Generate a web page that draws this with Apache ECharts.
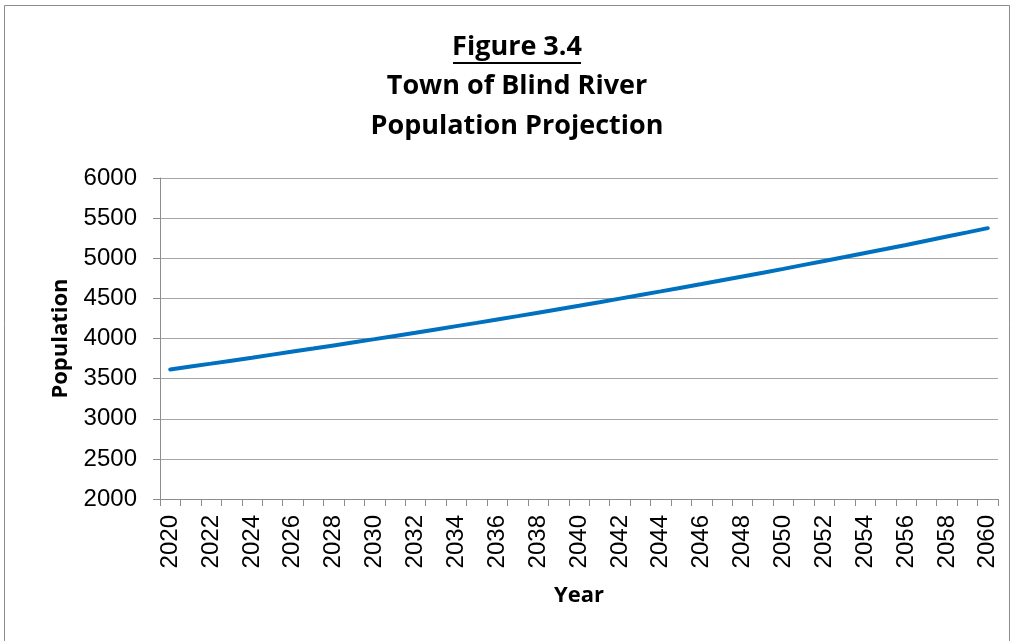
<!DOCTYPE html>
<html>
<head>
<meta charset="utf-8">
<script src="https://cdn.jsdelivr.net/npm/echarts@6/dist/echarts.min.js"></script>
<style>
  html, body { margin: 0; padding: 0; background: #fff; }
  #chart { width: 1016px; height: 641px; }
</style>
</head>
<body>
<div id="chart"></div>
<script>
// Projected population of the Town of Blind River, 2020–2060
const years = [
  '2020','2021','2022','2023','2024','2025','2026','2027','2028','2029',
  '2030','2031','2032','2033','2034','2035','2036','2037','2038','2039',
  '2040','2041','2042','2043','2044','2045','2046','2047','2048','2049',
  '2050','2051','2052','2053','2054','2055','2056','2057','2058','2059','2060'
];
const population = [
  3615, 3651, 3687, 3724, 3761, 3799, 3837, 3875, 3914, 3953,
  3992, 4032, 4072, 4113, 4154, 4195, 4237, 4279, 4322, 4365,
  4408, 4452, 4497, 4542, 4587, 4633, 4679, 4726, 4773, 4820,
  4868, 4917, 4966, 5015, 5065, 5115, 5166, 5218, 5270, 5322, 5375
];
const titleLines = ['Figure 3.4', 'Town of Blind River', 'Population Projection'];
const yTicks = { min: 2000, max: 6000, step: 500 };

const titleFont = '"Open Sans", "Noto Sans", sans-serif';
const bodyFont = '"Liberation Sans", Arial, sans-serif';

// three-line heading, centred over the chart
const titleGraphics = titleLines.map((t, i) => ({
  type: 'text',
  x: 517,
  y: 47 + i * 39.5,
  silent: true,
  style: {
    text: t,
    fontFamily: titleFont, fontWeight: 'bold', fontSize: 27, fill: '#000',
    textAlign: 'center', textVerticalAlign: 'middle'
  }
}));

const chart = echarts.init(document.getElementById('chart'));
chart.setOption({
  backgroundColor: '#ffffff',
  animation: false,
  graphic: [
    // chart frame
    { type: 'rect', shape: { x: 4.5, y: 5.5, width: 1005, height: 640 },
      style: { fill: null, stroke: '#8c8c8c', lineWidth: 1 }, silent: true },
    ...titleGraphics,
    // underline beneath the figure number
    { type: 'line', shape: { x1: 453, y1: 63, x2: 581, y2: 63 },
      style: { stroke: '#000', lineWidth: 2 }, silent: true }
  ],
  grid: { left: 160, right: 18, top: 178, bottom: 142 },
  xAxis: {
    type: 'category',
    data: years,
    boundaryGap: true,
    name: 'Year',
    nameLocation: 'middle',
    nameGap: 86,
    nameTextStyle: { fontFamily: titleFont, fontWeight: 'bold', fontSize: 22, color: '#000' },
    axisLine: { lineStyle: { color: '#8c8c8c', width: 1 } },
    axisTick: { show: true, interval: 0, length: 7, lineStyle: { color: '#8c8c8c' } },
    axisLabel: {
      interval: 1, rotate: 90, margin: 16,
      fontFamily: bodyFont, fontSize: 24, color: '#000'
    },
    splitLine: { show: false }
  },
  yAxis: {
    type: 'value',
    min: yTicks.min, max: yTicks.max, interval: yTicks.step,
    name: 'Population',
    nameLocation: 'middle',
    nameGap: 88,
    nameTextStyle: { fontFamily: titleFont, fontWeight: 'bold', fontSize: 22, color: '#000' },
    axisLine: { show: true, lineStyle: { color: '#8c8c8c', width: 1 } },
    axisTick: { show: true, length: 7, lineStyle: { color: '#8c8c8c' } },
    axisLabel: {
      margin: 23, fontFamily: bodyFont, fontSize: 24, color: '#000',
      formatter: v => String(v)
    },
    splitLine: { show: true, lineStyle: { color: '#a6a6a6', width: 1 } }
  },
  series: [{
    type: 'line',
    data: population,
    showSymbol: false,
    symbol: 'none',
    lineStyle: { color: '#0070C0', width: 4, cap: 'round' },
    itemStyle: { color: '#0070C0' }
  }]
});
</script>
</body>
</html>
